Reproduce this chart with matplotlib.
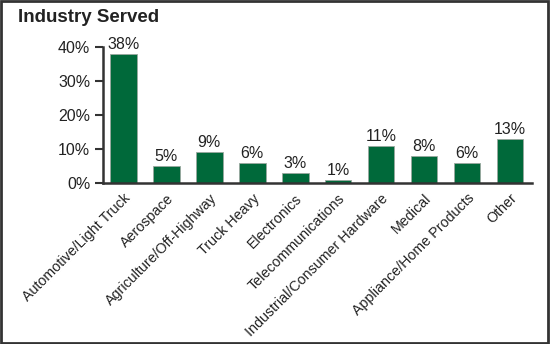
import matplotlib
matplotlib.use("Agg")
import matplotlib.pyplot as plt
from matplotlib.patches import Rectangle

categories = ["Automotive/Light Truck", "Aerospace", "Agriculture/Off-Highway", "Truck Heavy",
              "Electronics", "Telecommunications", "Industrial/Consumer Hardware", "Medical",
              "Appliance/Home Products", "Other"]
values = [38, 5, 9, 6, 3, 1, 11, 8, 6, 13]
yticks = [0, 10, 20, 30, 40]
ytick_labels = ["0%", "10%", "20%", "30%", "40%"]
title = "Industry Served"

plt.rcParams['font.family'] = ["Liberation Sans", "DejaVu Sans"]

fig = plt.figure(figsize=(5.5, 3.44), dpi=100)
ax = fig.add_axes([0.187, 0.468, 0.780, 0.395])

x = list(range(len(categories)))
ax.bar(x, values, width=0.62, color="#00693a", edgecolor="#9aa89f", linewidth=0.6, zorder=2)
for xi, v in zip(x, values):
    ax.text(xi, v + 0.6, f"{v}%", ha="center", va="bottom", fontsize=11.5, color="#222222", clip_on=False)

ax.set_xlim(-0.48, 9.51)
ax.set_ylim(0, 40)
ax.set_yticks(yticks)
ax.set_yticklabels(ytick_labels, fontsize=11.5, color="#222222")
ax.set_xticks(x)
ax.set_xticklabels(categories, rotation=45, ha="right", rotation_mode="anchor", fontsize=10.3, color="#222222")
ax.tick_params(axis="x", length=0, pad=6)
ax.tick_params(axis="y", length=6, width=1.5, color="#333333", pad=3)
for s in ["top", "right"]:
    ax.spines[s].set_visible(False)
for s in ["left", "bottom"]:
    ax.spines[s].set_color("#333333")
    ax.spines[s].set_linewidth(1.8)

fig.text(0.033, 0.948, title, fontsize=13.5, fontweight="bold", ha="left", va="center", color="#222222")

fig.patches.append(Rectangle((0.002, 0.003), 0.995, 0.994, transform=fig.transFigure,
                             fill=False, edgecolor="#333333", linewidth=2))

fig.savefig("out.png", dpi=100)
